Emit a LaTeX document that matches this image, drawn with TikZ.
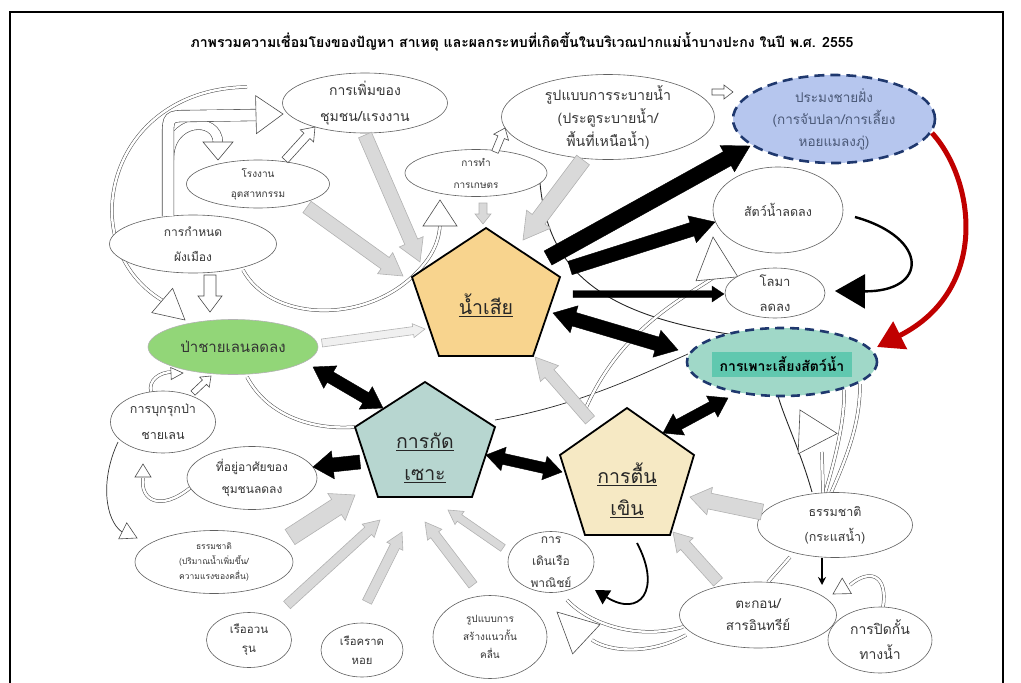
\documentclass[tikz,border=0pt]{standalone}
\usepackage{fontspec}
\setmainfont[Script=Thai]{Loma}
\usetikzlibrary{calc,shapes.geometric,arrows.meta}
\pgfdeclarelayer{bg}
\pgfsetlayers{bg,main}
\definecolor{wsfill}{RGB}{248,212,142}
\definecolor{erofill}{RGB}{183,214,208}
\definecolor{shlfill}{RGB}{246,233,196}
\definecolor{fishfill}{RGB}{182,198,238}
\definecolor{navy}{RGB}{31,56,110}
\definecolor{farmfill}{RGB}{160,216,200}
\definecolor{farmbox}{RGB}{96,200,175}
\definecolor{mangfill}{RGB}{146,214,120}
\definecolor{txtgray}{RGB}{55,55,55}
\definecolor{redarr}{RGB}{192,0,0}
% block arrow: [style]{start}{tip}{shaft half width}{head half width}{head length}
\newcommand\blk[6][]{%
  \coordinate (bka) at #2;
  \coordinate (bkb) at #3;
  \coordinate (bkh) at ($(bkb)!#6!(bka)$);
  \filldraw[#1] ($(bka)!#4!90:(bkb)$) -- ($(bkh)!#4!90:(bkb)$) -- ($(bkh)!#5!90:(bkb)$) -- (bkb) -- ($(bkh)!#5!-90:(bkb)$) -- ($(bkh)!#4!-90:(bkb)$) -- ($(bka)!#4!-90:(bkb)$) -- cycle;}
\newcommand\dblk[6][]{%
  \coordinate (bka) at #2;
  \coordinate (bkb) at #3;
  \coordinate (bkh) at ($(bkb)!#6!(bka)$);
  \coordinate (bkg) at ($(bka)!#6!(bkb)$);
  \filldraw[#1] (bka) -- ($(bkg)!#5!90:(bkb)$) -- ($(bkg)!#4!90:(bkb)$) -- ($(bkh)!#4!90:(bkb)$) -- ($(bkh)!#5!90:(bkb)$) -- (bkb) -- ($(bkh)!#5!-90:(bkb)$) -- ($(bkh)!#4!-90:(bkb)$) -- ($(bkg)!#4!-90:(bkb)$) -- ($(bkg)!#5!-90:(bkb)$) -- cycle;}
% triangular head: [style]{point behind}{tip}{half width}{length}
\newcommand\thead[5][]{%
  \coordinate (tha) at #2;
  \coordinate (thb) at #3;
  \coordinate (thh) at ($(thb)!#5!(tha)$);
  \filldraw[#1] (thb) -- ($(thh)!#4!90:(thb)$) -- ($(thh)!#4!-90:(thb)$) -- cycle;}
\tikzset{
 ell/.style={ellipse, draw=gray!75!black, line width=0.6pt, fill=white, inner xsep=0pt, inner ysep=-6pt, text=txtgray, align=center},
 pent/.style={draw=black, line width=1.8pt, line join=miter},
 ptext/.style={align=center, font=\fontsize{19.5}{32}\selectfont, text=black!85},
 gblk/.style={fill=gray!30, draw=gray!60, line width=0.6pt},
 lgblk/.style={fill=gray!12, draw=gray!60, line width=0.6pt},
 wblk/.style={fill=white, draw=gray!60!black, line width=0.6pt},
 kblk/.style={fill=black, draw=black, line width=0.4pt},
 dline/.style={draw=gray!60!black, double=white, double distance=2.4pt, line width=0.5pt},
 wshaft/.style={draw=gray!60!black, double=white, double distance=11pt, line width=0.6pt},
 thinln/.style={draw=black!85, line width=0.9pt},
}
\begin{document}
\begin{tikzpicture}[x=1pt,y=-1pt]
\useasboundingbox (0,0) rectangle (1021,683);
\draw[line width=2pt] (10,683) -- (10,12) -- (1003,12) -- (1003,683);
\node[font=\bfseries\fontsize{14.1}{16}\selectfont] (title) at (522,42) {ภาพรวมความเชื่อมโยงของปัญหา สาเหตุ และผลกระทบที่เกิดขึ้นในบริเวณปากแม่น้ำบางปะกง ในปี พ.ศ. 2555};

% pentagons
\draw[pent, fill=wsfill] (486,228) -- (560,277) -- (533,356) -- (439,356) -- (412,277) -- cycle;
\draw[pent, fill=erofill] (425,382) -- (495,427) -- (472,497) -- (378,497) -- (355,427) -- cycle;
\draw[pent, fill=shlfill] (627,408) -- (694,455) -- (670,535) -- (585,535) -- (560,455) -- cycle;
\node[ptext] (ws) at (486,305) {\underline{น้ำเสีย}};
\node[ptext] (ero) at (425,458) {\underline{การกัด}\\\underline{เซาะ}};
\node[ptext] (shl) at (627,490) {\underline{การตื้น}\\\underline{เขิน}};

% ellipses
\node[ell, minimum width=165pt, minimum height=60pt, font=\fontsize{14}{26}\selectfont] (pop) at (365,103) {การเพิ่มของ\\ชุมชน/แรงงาน};
\node[ell, minimum width=143pt, minimum height=48pt, font=\fontsize{10}{20}\selectfont] (fac) at (258,184) {โรงงาน\\อุตสาหกรรม};
\node[ell, minimum width=167pt, minimum height=58pt, font=\fontsize{12}{25}\selectfont] (plan) at (193,244) {การกำหนด\\ผังเมือง};
\node[ell, minimum width=142pt, minimum height=47pt, font=\fontsize{10}{22}\selectfont] (agr) at (476,173) {การทำ\\การเกษตร};
\node[ell, minimum width=213pt, minimum height=85pt, font=\fontsize{14.2}{23}\selectfont] (drain) at (608,117) {รูปแบบการระบายน้ำ\\(ประตูระบายน้ำ/\\พื้นที่เหนือน้ำ)};
\node[ellipse, draw=navy, line width=2.6pt, dash pattern=on 10pt off 6pt, fill=fishfill, minimum width=202pt, minimum height=88pt, inner xsep=0pt, inner ysep=-6pt, align=center, text=navy!55!gray, font=\fontsize{13.5}{22}\selectfont] (fish) at (834,119) {ประมงชายฝั่ง\\(การจับปลา/การเลี้ยง\\หอยแมลงภู่)};
\node[ell, minimum width=130pt, minimum height=86pt, font=\fontsize{12.5}{14}\selectfont] (aqua) at (778,210) {สัตว์น้ำลดลง};
\node[ell, minimum width=100pt, minimum height=50pt, font=\fontsize{13}{25}\selectfont] (dolph) at (775,293) {โลมา\\ลดลง};
\node[ellipse, draw=navy, line width=2.6pt, dash pattern=on 9pt off 6pt, fill=farmfill, minimum width=190pt, minimum height=68pt, inner sep=0pt] (farm) at (782,362) {};
\node[fill=farmbox, minimum width=140pt, minimum height=25pt, inner sep=0pt, font=\bfseries\fontsize{14}{14}\selectfont] (farmt) at (782,364) {การเพาะเลี้ยงสัตว์น้ำ};
\node[ell, fill=mangfill, draw=gray!60, text=black!80, minimum width=170pt, minimum height=55pt, font=\fontsize{15}{14}\selectfont] (mang) at (233,347) {ป่าชายเลนลดลง};
\node[ell, minimum width=105pt, minimum height=62pt, font=\fontsize{12.5}{26}\selectfont] (inv) at (163,422) {การบุกรุกป่า\\ชายเลน};
\node[ell, minimum width=130pt, minimum height=63pt, font=\fontsize{12}{22}\selectfont] (home) at (252,478) {ที่อยู่อาศัยของ\\ชุมชนลดลง};
\node[ell, minimum width=158pt, minimum height=63pt, font=\fontsize{8.5}{15}\selectfont] (natw) at (214,562) {ธรรมชาติ\\(ปริมาณน้ำเพิ่มขึ้น/\\ความแรงของคลื่น)};
\node[ell, minimum width=85pt, minimum height=55pt, font=\fontsize{11.5}{19}\selectfont] (trawl) at (249,640) {เรืออวน\\รุน};
\node[ell, minimum width=82pt, minimum height=54pt, font=\fontsize{11.3}{19}\selectfont] (rake) at (362,650) {เรือคราด\\หอย};
\node[ell, minimum width=114pt, minimum height=83pt, font=\fontsize{10}{18}\selectfont] (wall) at (490,637) {รูปแบบการ\\สร้างแนวกั้น\\คลื่น};
\node[ell, minimum width=86pt, minimum height=61pt, inner ysep=-9pt, font=\fontsize{12}{22}\selectfont] (ship) at (551,562) {การ\\เดินเรือ\\พาณิชย์};
\node[ell, minimum width=155pt, minimum height=65pt, font=\fontsize{12.5}{25}\selectfont] (natc) at (835,525) {ธรรมชาติ\\(กระแสน้ำ)};
\node[ell, minimum width=157pt, minimum height=66pt, font=\fontsize{13.5}{22}\selectfont] (sed) at (758,615) {ตะกอน/\\สารอินทรีย์};
\node[ell, minimum width=104pt, minimum height=66pt, font=\fontsize{14}{25}\selectfont] (block) at (880,640) {การปิดกั้น\\ทางน้ำ};

\begin{pgfonlayer}{bg}
% outer arc to mangrove
\draw[dline] ($(pop)+(-118,-16)$) .. controls (160,88) and (110,150) .. (112,215) .. controls (114,255) and (135,285) .. (165,302);
\thead[wblk]{(150,290)}{($(mang)+(-48,-27)$)}{16pt}{30pt}
% plan -> under -> agr
\draw[dline] ($(plan)+(50,26)$) .. controls (270,320) and (360,325) .. (412,277) .. controls (428,262) and (440,245) .. (440,222);
\thead[wblk]{(440,235)}{($(agr)+(-36,27)$)}{17pt}{26pt}
% mangrove -> erosion
\draw[dline] ($(mang)+(14,30)$) .. controls (270,420) and (320,430) .. ($(ero)+(-70,-31)$);
% agr -> farm thin
\draw[thinln] ($(agr)+(64,10)$) .. controls (548,270) and (600,315) .. ($(farm)+(-47,-27)$);
% erosion -> farm thin
\draw[thinln, line width=0.7pt] ($(ero)+(70,-38)$) .. controls (580,405) and (640,375) .. ($(farm)+(-94,-8)$);
% shallowing -> aqua animals
\draw[dline] ($(shl)+(-42,-80)$) .. controls (620,330) and (680,300) .. (716,276);
\thead[wblk]{(718,290)}{($(aqua)+(-65,27)$)}{21pt}{42pt}
% natc -> farm
\draw[thinln] ($(natc)+(-23,-33)$) .. controls (800,450) and (785,420) .. ($(farm)+(-4,34)$);
\draw[dline] ($(natc)+(-10,-32)$) .. controls (835,460) and (845,420) .. ($(farm)+(62,28)$);
\draw[dline] ($(natc)+(-4,-32)$) .. controls (850,450) and (860,420) .. ($(farm)+(78,22)$);
\draw[dline] (822,452) -- ($(natc)+(-12,-32)$);
\thead[wblk]{(822,452)}{($(farm)+(18,48)$)}{22pt}{38pt}
% sed -> natc
\draw[dline] ($(sed)+(10,-33)$) -- ($(natc)+(-45,32)$);
% sed -> ship area
\draw[dline] ($(sed)+(-75,12)$) .. controls (640,640) and (590,625) .. ($(ship)+(16,38)$);
\draw[dline] ($(sed)+(-72,20)$) .. controls (650,655) and (610,652) .. (592,640);
\thead[wblk]{(600,652)}{($(ship)+(6,50)$)}{20pt}{40pt}
% block -> left
\draw[dline] ($(block)+(3,-33)$) .. controls (888,575) and (870,568) .. (850,585);
\thead[wblk]{(860,578)}{($(block)+(-47,-46)$)}{9pt}{16pt}
% home -> inv
\draw[dline] ($(home)+(-62,10)$) .. controls (160,512) and (140,500) .. (143,478);
\thead[wblk]{(143,485)}{($(inv)+(-20,42)$)}{8pt}{13pt}
% inv -> natw
\draw[line width=0.7pt, draw=gray!40!black] ($(inv)+(-45,20)$) .. controls (100,480) and (105,520) .. (122,532);
\thead[wblk]{(115,527)}{($(natw)+(-77,-24)$)}{9pt}{16pt}
% inv -> mang
\draw[dline] ($(inv)+(-12,-30)$) .. controls (148,380) and (160,372) .. (172,372);
\thead[wblk]{(160,374)}{($(mang)+(-50,26)$)}{6pt}{12pt}
\end{pgfonlayer}

% hollow shaft arrows from town planning
\draw[wshaft, double distance=9pt] (169,160) .. controls (168,118) and (218,115) .. (218,143);
\thead[wblk]{(218,130)}{($(fac)+(-40,-24)$)}{15pt}{18pt}
\draw[wshaft] ($(plan)+(-25,-28)$) -- (168,138) .. controls (168,116) .. (190,116) -- (257,115);
\thead[wblk]{(240,115)}{($(pop)+(-82,11)$)}{19pt}{27pt}

% gray block arrows
\blk[gblk]{($(pop)+(0,32)$)}{($(ws)+(-66,-43)$)}{7pt}{13pt}{22pt}
\blk[gblk]{($(fac)+(49,23)$)}{($(ws)+(-83,-29)$)}{7pt}{13pt}{22pt}
\blk[gblk]{($(agr)+(7,30)$)}{($(ws)+(-3,-81)$)}{4pt}{8pt}{10pt}
\blk[gblk]{($(drain)+(-25,43)$)}{($(ws)+(37,-65)$)}{8pt}{15pt}{26pt}
\blk[lgblk]{($(mang)+(89,-4)$)}{($(ws)+(-61,24)$)}{4pt}{7pt}{12pt}
\blk[gblk]{($(shl)+(-37,-70)$)}{($(ws)+(49,52)$)}{6pt}{12pt}{22pt}
\blk[gblk]{($(natw)+(76,-25)$)}{($(ero)+(-70,37)$)}{9pt}{16pt}{22pt}
\blk[gblk]{($(trawl)+(38,-35)$)}{($(ero)+(-45,62)$)}{5pt}{9pt}{16pt}
\blk[gblk]{($(rake)+(5,-48)$)}{($(ero)+(-23,74)$)}{5pt}{9pt}{16pt}
\blk[gblk]{($(wall)+(-17,-52)$)}{($(ero)+(0,64)$)}{5pt}{9pt}{16pt}
\blk[gblk]{($(ship)+(-48,-14)$)}{($(ero)+(23,52)$)}{4pt}{8pt}{14pt}
\blk[gblk]{($(natc)+(-73,-13)$)}{($(shl)+(63,7)$)}{8pt}{14pt}{20pt}
\blk[gblk]{($(sed)+(-40,-33)$)}{($(shl)+(46,42)$)}{6pt}{11pt}{18pt}

% hollow straight arrows
\blk[wblk]{($(fac)+(27,-24)$)}{($(pop)+(-50,24)$)}{4pt}{9pt}{12pt}
\blk[wblk]{($(agr)+(19,-21)$)}{($(drain)+(-103,11)$)}{3.5pt}{8pt}{10pt}
\blk[wblk]{($(plan)+(17,31)$)}{($(mang)+(-23,-35)$)}{6pt}{12pt}{16pt}
\blk[wblk]{($(drain)+(104,-25)$)}{($(fish)+(-101,-27)$)}{3pt}{7pt}{9pt}
\blk[wblk]{($(inv)+(30,-29)$)}{($(mang)+(-22,29)$)}{3pt}{7pt}{9pt}

% black block arrows
\blk[kblk]{($(ws)+(62,-47)$)}{($(fish)+(-84,27)$)}{8pt}{15pt}{26pt}
\blk[kblk]{($(ws)+(84,-37)$)}{($(aqua)+(-63,12)$)}{7pt}{14pt}{24pt}
\blk[kblk]{($(ws)+(87,-11)$)}{($(dolph)+(-51,1)$)}{3.5pt}{8pt}{12pt}
\dblk[kblk]{($(ws)+(67,8)$)}{($(farm)+(-104,-12)$)}{7pt}{14pt}{22pt}
\dblk[kblk]{($(mang)+(80,20)$)}{($(ero)+(-42,-50)$)}{6pt}{13pt}{20pt}
\dblk[kblk]{($(ero)+(61,-3)$)}{($(shl)+(-65,-18)$)}{5.5pt}{12pt}{18pt}
\dblk[kblk]{($(shl)+(36,-57)$)}{($(farm)+(-54,36)$)}{5.5pt}{12pt}{18pt}
\blk[kblk]{($(ero)+(-65,4)$)}{($(home)+(61,-11)$)}{7pt}{14pt}{20pt}

% curved arrows
\draw[line width=2.4pt, -{Triangle[length=30pt,width=34pt]}] ($(aqua)+(77,7)$) .. controls (930,238) and (928,292) .. ($(dolph)+(60,-2)$);
\draw[draw=redarr, line width=5pt, -{Triangle[length=26pt,width=30pt]}] ($(fish)+(98,14)$) .. controls (975,180) and (990,290) .. ($(farm)+(95,-15)$);
\draw[line width=1.8pt, -{Triangle[length=14pt,width=16pt]}] ($(shl)+(10,53)$) .. controls (662,590) and (640,618) .. ($(ship)+(44,28)$);
\draw[line width=1.4pt, -{Stealth[length=8pt,width=8pt]}] ($(natc)+(-13,33)$) -- ($(sed)+(64,-30)$);
\end{tikzpicture}
\end{document}
